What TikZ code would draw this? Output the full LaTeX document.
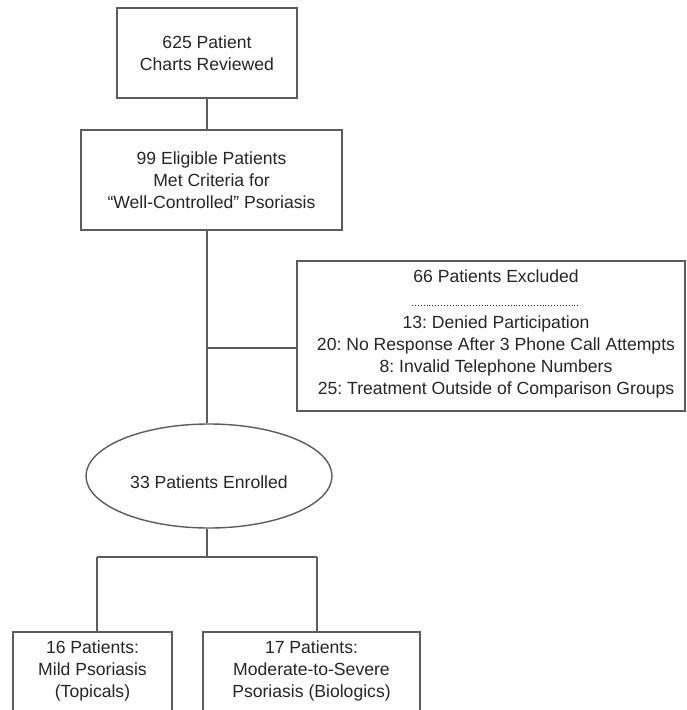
\documentclass[tikz,border=0pt]{standalone}
\usepackage{fontspec}
\setmainfont{Liberation Sans}
\usetikzlibrary{shapes.geometric}
\definecolor{linec}{HTML}{5C5C5C}
\definecolor{textc}{HTML}{262626}
\begin{document}
\frenchspacing
\begin{tikzpicture}[x=1pt,y=-1pt,
  every node/.style={font=\fontsize{17.6}{22}\selectfont, text=textc},
  box/.style={draw=linec, line width=1.4pt, rectangle, align=center, inner sep=0pt},
  conn/.style={draw=linec, line width=1.4pt}]
\useasboundingbox (0,0) rectangle (686,710);
\clip (0,0) rectangle (686,710);
\fill[white] (0,0) rectangle (686,710);
\node[box, minimum width=180pt, minimum height=90pt] (b1) at (207,53) {625 Patient\\Charts Reviewed};
\node[box, minimum width=261pt, minimum height=100pt] (b2) at (211.5,180) {99 Eligible Patients\\Met Criteria for\\``Well-Controlled'' Psoriasis};
\node[box, minimum width=388pt, minimum height=150pt] (ex) at (491,336) {};
\node[align=center, inner sep=0pt, anchor=north] (ext) at (496,270) {66 Patients Excluded};
\node[align=center, inner sep=0pt, anchor=north] (exl) at (496,316) {13: Denied Participation\\20: No Response After 3 Phone Call Attempts\\8: Invalid Telephone Numbers\\25: Treatment Outside of Comparison Groups};
\coordinate (d1) at (412,305);
\coordinate (d2) at (580,305);
\draw[textc, line width=0.9pt, dotted] (d1) -- (d2);
\node[draw=linec, line width=1.4pt, ellipse, minimum width=246pt, minimum height=104pt, inner sep=0pt] (en) at (209,476) {};
\node[inner sep=0pt] (ent) at (209,482) {33 Patients Enrolled};
\node[box, minimum width=159pt, minimum height=110pt] (L) at (92.5,687) {};
\node[box, minimum width=217pt, minimum height=110pt] (R) at (311.5,687) {};
\node[align=center, inner sep=0pt, anchor=north] (Lt) at (92.5,641) {16 Patients:\\Mild Psoriasis\\(Topicals)};
\node[align=center, inner sep=0pt, anchor=north] (Rt) at (311.5,641) {17 Patients:\\Moderate-to-Severe\\Psoriasis (Biologics)};
\coordinate (j) at (207,348);
\coordinate (kl) at (97,557);
\coordinate (kr) at (317,557);
\coordinate (km) at (207,557);
\draw[conn] (b1.south) -- (b1.south |- b2.north);
\draw[conn] (b2.south -| b1.south) -- (b1.south |- en.north);
\draw[conn] (j) -- (j -| ex.west);
\draw[conn] (km |- en.south) -- (km);
\draw[conn] (kl) -- (kr);
\draw[conn] (kl) -- (kl |- L.north);
\draw[conn] (kr) -- (kr |- R.north);
\end{tikzpicture}
\end{document}
